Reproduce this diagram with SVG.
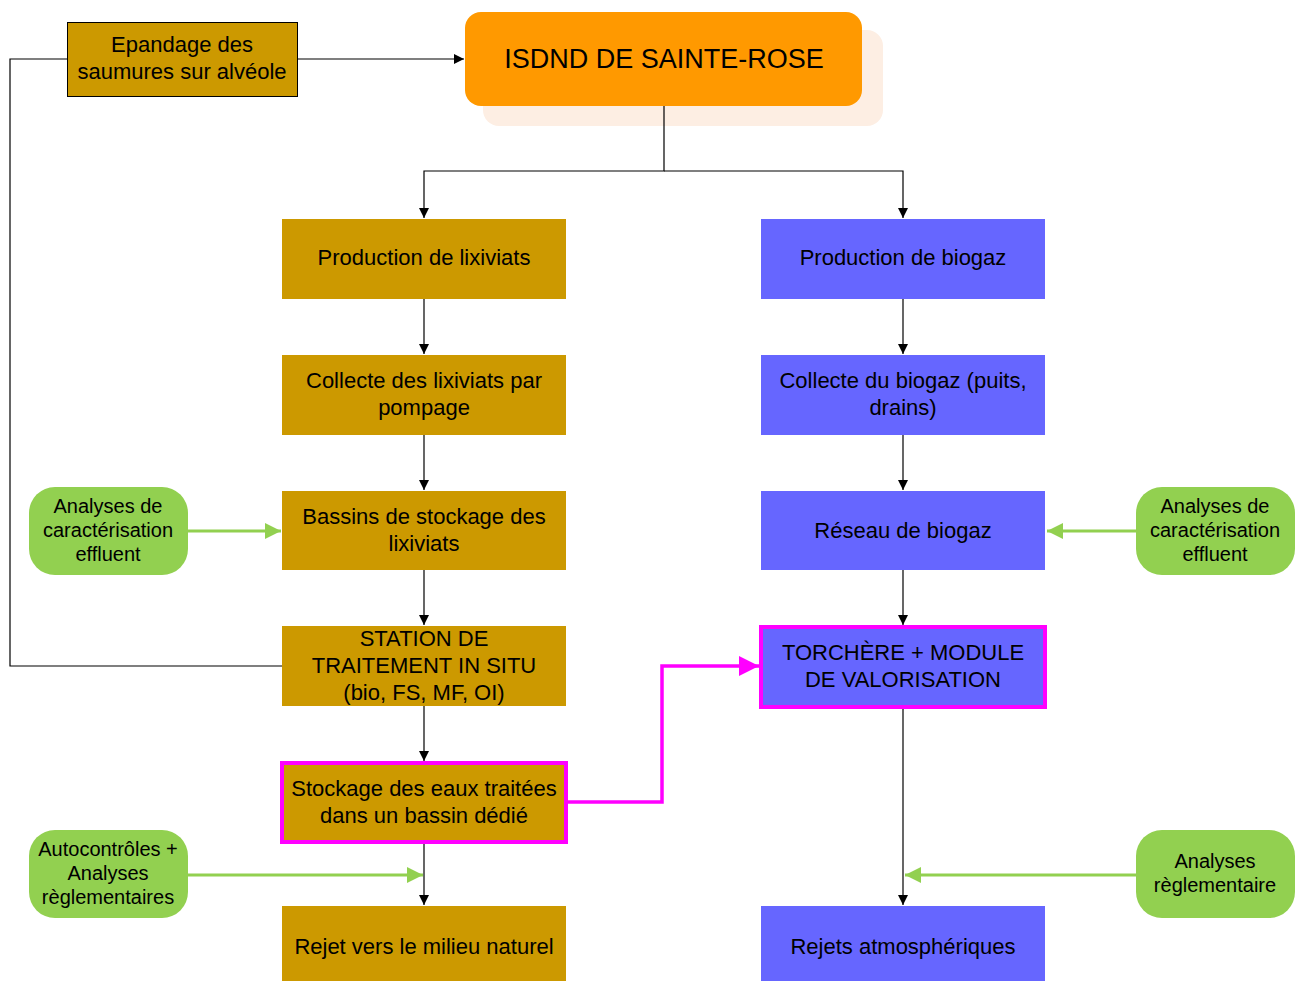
<svg xmlns="http://www.w3.org/2000/svg" width="1295" height="981" viewBox="0 0 1295 981">
<defs>
<style>
text{font-family:"Liberation Sans",Arial,sans-serif;fill:#000;text-anchor:middle}
.t{font-size:22px}
.g{font-size:20px}
.gold{fill:#CC9900}
.blue{fill:#6666FF}
.pill{fill:#92D050}
.k{stroke:#000;stroke-width:1.2;fill:none}
.gr{stroke:#92D050;stroke-width:3;fill:none}
.mg{stroke:#FF00FF;stroke-width:3.5;fill:none}
</style>
<marker id="ak" viewBox="0 0 10 10" refX="10" refY="5" markerWidth="10" markerHeight="10" markerUnits="userSpaceOnUse" orient="auto"><path d="M0,0 L10,5 L0,10 Z" fill="#000"/></marker>
<marker id="ag" viewBox="0 0 10 10" refX="10" refY="5" markerWidth="16" markerHeight="16" markerUnits="userSpaceOnUse" orient="auto"><path d="M0,0 L10,5 L0,10 Z" fill="#92D050"/></marker>
<marker id="am" viewBox="0 0 10 10" refX="10" refY="5" markerWidth="20" markerHeight="20" markerUnits="userSpaceOnUse" orient="auto"><path d="M0,0 L10,5 L0,10 Z" fill="#FF00FF"/></marker>
</defs>
<rect width="1295" height="981" fill="#fff"/>

<g id="isdnd">
<rect x="483" y="30" width="400" height="96" rx="16" fill="#FDEEE3"/>
<rect x="465" y="12" width="397" height="94" rx="16" fill="#FF9900"/>
<text x="664" y="68" style="font-size:27px">ISDND DE SAINTE-ROSE</text>
</g>

<g id="epandage">
<rect x="67.5" y="22.5" width="230" height="74" class="gold" stroke="#000" stroke-width="1"/>
<text class="t" x="182" y="52">Epandage des</text>
<text class="t" x="182" y="79">saumures sur alvéole</text>
</g>

<g id="prod-lix">
<rect x="282" y="219" width="284" height="80" class="gold"/>
<text class="t" x="424" y="265">Production de lixiviats</text>
</g>
<g id="collecte-lix">
<rect x="282" y="355" width="284" height="80" class="gold"/>
<text class="t" x="424" y="388">Collecte des lixiviats par</text>
<text class="t" x="424" y="415">pompage</text>
</g>
<g id="bassins">
<rect x="282" y="491" width="284" height="79" class="gold"/>
<text class="t" x="424" y="524">Bassins de stockage des</text>
<text class="t" x="424" y="551">lixiviats</text>
</g>
<g id="station">
<rect x="282" y="626" width="284" height="80" class="gold"/>
<text class="t" x="424" y="646">STATION DE</text>
<text class="t" x="424" y="673">TRAITEMENT IN SITU</text>
<text class="t" x="424" y="700">(bio, FS, MF, OI)</text>
</g>
<g id="stockage">
<rect x="282" y="763" width="284" height="79" class="gold" stroke="#FF00FF" stroke-width="4"/>
<text class="t" x="424" y="796">Stockage des eaux traitées</text>
<text class="t" x="424" y="823">dans un bassin dédié</text>
</g>
<g id="rejet">
<rect x="282" y="906" width="284" height="75" class="gold"/>
<text class="t" x="424" y="954">Rejet vers le milieu naturel</text>
</g>

<g id="prod-bio">
<rect x="761" y="219" width="284" height="80" class="blue"/>
<text class="t" x="903" y="265">Production de biogaz</text>
</g>
<g id="collecte-bio">
<rect x="761" y="355" width="284" height="80" class="blue"/>
<text class="t" x="903" y="388">Collecte du biogaz (puits,</text>
<text class="t" x="903" y="415">drains)</text>
</g>
<g id="reseau">
<rect x="761" y="491" width="284" height="79" class="blue"/>
<text class="t" x="903" y="538">Réseau de biogaz</text>
</g>
<g id="torchere">
<rect x="761" y="627" width="284" height="80" class="blue" stroke="#FF00FF" stroke-width="4"/>
<text class="t" x="903" y="660">TORCHÈRE + MODULE</text>
<text class="t" x="903" y="687">DE VALORISATION</text>
</g>
<g id="rejets-atmo">
<rect x="761" y="906" width="284" height="75" class="blue"/>
<text class="t" x="903" y="954">Rejets atmosphériques</text>
</g>

<g id="analyses-left">
<rect x="29" y="487" width="159" height="88" rx="26" class="pill"/>
<text class="g" x="108" y="513">Analyses de</text>
<text class="g" x="108" y="537">caractérisation</text>
<text class="g" x="108" y="561">effluent</text>
</g>
<g id="autocontroles">
<rect x="29" y="830" width="159" height="88" rx="26" class="pill"/>
<text class="g" x="108" y="856">Autocontrôles +</text>
<text class="g" x="108" y="880">Analyses</text>
<text class="g" x="108" y="904">règlementaires</text>
</g>
<g id="analyses-right">
<rect x="1136" y="487" width="159" height="88" rx="26" class="pill"/>
<text class="g" x="1215" y="513">Analyses de</text>
<text class="g" x="1215" y="537">caractérisation</text>
<text class="g" x="1215" y="561">effluent</text>
</g>
<g id="analyses-regl">
<rect x="1136" y="830" width="159" height="88" rx="26" class="pill"/>
<text class="g" x="1215" y="868">Analyses</text>
<text class="g" x="1215" y="892">règlementaire</text>
</g>

<g id="connectors">
<path class="k" d="M664,106 V171 H424 V218" marker-end="url(#ak)"/>
<path class="k" d="M664,171 H903 V218" marker-end="url(#ak)"/>
<path class="k" d="M298,59 H464" marker-end="url(#ak)"/>
<path class="k" d="M282,666 H10 V59 H67"/>
<path class="k" d="M424,299 V354" marker-end="url(#ak)"/>
<path class="k" d="M424,435 V490" marker-end="url(#ak)"/>
<path class="k" d="M424,570 V625" marker-end="url(#ak)"/>
<path class="k" d="M424,706 V761" marker-end="url(#ak)"/>
<path class="k" d="M424,844 V905" marker-end="url(#ak)"/>
<path class="k" d="M903,299 V354" marker-end="url(#ak)"/>
<path class="k" d="M903,435 V490" marker-end="url(#ak)"/>
<path class="k" d="M903,570 V625" marker-end="url(#ak)"/>
<path class="k" d="M903,709 V905" marker-end="url(#ak)"/>
<path class="gr" d="M188,531 H281" marker-end="url(#ag)"/>
<path class="gr" d="M188,875 H423" marker-end="url(#ag)"/>
<path class="gr" d="M1136,531 H1047" marker-end="url(#ag)"/>
<path class="gr" d="M1136,875 H905" marker-end="url(#ag)"/>
<path class="mg" d="M568,802 H662 V666 H759" marker-end="url(#am)"/>
</g>
</svg>
